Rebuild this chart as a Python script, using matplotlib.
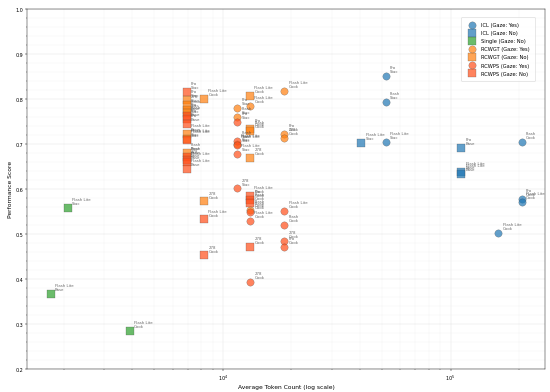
import numpy as np
import matplotlib
matplotlib.use("Agg")
import matplotlib.pyplot as plt
from matplotlib.ticker import AutoMinorLocator

# ICL (Gaze: Yes)
icl_yes_tokens = [51800, 51800, 51800, 205000, 205000, 205000, 162000]
icl_yes_scores = [0.851, 0.793, 0.704, 0.704, 0.578, 0.571, 0.502]
icl_yes_labels = ["Pro\nStac", "Flash\nStac", "Flash Lite\nStac", "Flash\nCook",
                  "Pro\nCook", "Flash Lite\nCook", "Flash Lite\nCook"]

# ICL (Gaze: No)
icl_no_tokens = [40500, 111700, 111700, 111700]
icl_no_scores = [0.702, 0.691, 0.638, 0.633]
icl_no_labels = ["Flash Lite\nStac", "Pro\nBase", "Flash Lite\nBase", "Flash Lite\nBase"]

# Single (Gaze: No)
single_tokens = [1746, 2075, 3890]
single_scores = [0.367, 0.558, 0.284]
single_labels = ["Flash Lite\nBase", "Flash Lite\nStac", "Flash Lite\nCook"]

# RCWGT (Gaze: Yes)
rcwgt_yes_tokens = [11530, 11530, 11530, 13150, 13150, 18580, 18580, 18580]
rcwgt_yes_scores = [0.780, 0.760, 0.700, 0.784, 0.553, 0.818, 0.722, 0.713]
rcwgt_yes_labels = ["Pro\nStac", "Flash\nStac", "Flash Lite\nStac", "Flash Lite\nCook",
                    "Flash\nCook", "Flash Lite\nCook", "Pro\nCook", "278\nCook"]

# RCWGT (Gaze: No)
rcwgt_no_tokens = [6930, 6930, 6930, 6930, 6930, 6930, 6930,
                   8250, 8250, 13150, 13150, 13150, 13150]
rcwgt_no_scores = [0.797, 0.787, 0.776, 0.769, 0.722, 0.712, 0.680,
                   0.800, 0.572, 0.807, 0.733, 0.728, 0.669]
rcwgt_no_labels = ["Pro\nStac", "278\nStac", "Flash\nStac", "Pro\nBase", "Flash Lite\nBase",
                   "Flash Lite\nStac", "Flash\nBase", "Flash Lite\nCook", "278\nCook",
                   "Flash Lite\nCook", "Pro\nCook", "Flash\nCook", "278\nCook"]

# RCWPS (Gaze: Yes)
rcwps_yes_tokens = [11530, 11530, 11530, 11530, 11530, 13150, 13150, 13150,
                    18580, 18580, 18580, 18580]
rcwps_yes_scores = [0.749, 0.707, 0.698, 0.678, 0.601, 0.549, 0.529, 0.393,
                    0.551, 0.520, 0.485, 0.471]
rcwps_yes_labels = ["Pro\nStac", "Flash\nStac", "Flash Lite\nStac", "Flash Lite\nStac",
                    "278\nStac", "Flash\nCook", "Flash Lite\nCook", "278\nCook",
                    "Flash Lite\nCook", "Flash\nCook", "278\nCook", "Pro\nCook"]

# RCWPS (Gaze: No)
rcwps_no_tokens = [6930, 6930, 6930, 6930, 6930, 6930, 6930, 6930, 6930,
                   8250, 8250, 13150, 13150, 13150, 13150]
rcwps_no_scores = [0.815, 0.762, 0.755, 0.745, 0.708, 0.672, 0.665, 0.660, 0.645,
                   0.532, 0.452, 0.584, 0.576, 0.569, 0.471]
rcwps_no_labels = ["Pro\nStac", "Flash\nStac", "Pro\nBase", "Pro\nBase", "Flash Lite\nStac",
                   "Flash\nBase", "278\nBase", "Flash Lite\nBase", "Flash Lite\nBase",
                   "Flash Lite\nCook", "278\nCook", "Flash Lite\nCook", "Pro\nCook",
                   "Flash\nCook", "278\nCook"]

groups = [
    ("ICL (Gaze: Yes)", icl_yes_tokens, icl_yes_scores, icl_yes_labels, "#1f77b4", "o"),
    ("ICL (Gaze: No)", icl_no_tokens, icl_no_scores, icl_no_labels, "#1f77b4", "s"),
    ("Single (Gaze: No)", single_tokens, single_scores, single_labels, "#2ca02c", "s"),
    ("RCWGT (Gaze: Yes)", rcwgt_yes_tokens, rcwgt_yes_scores, rcwgt_yes_labels, "#ff7f0e", "o"),
    ("RCWGT (Gaze: No)", rcwgt_no_tokens, rcwgt_no_scores, rcwgt_no_labels, "#ff7f0e", "s"),
    ("RCWPS (Gaze: Yes)", rcwps_yes_tokens, rcwps_yes_scores, rcwps_yes_labels, "#ff4f1a", "o"),
    ("RCWPS (Gaze: No)", rcwps_no_tokens, rcwps_no_scores, rcwps_no_labels, "#ff4f1a", "s"),
]

fig, ax = plt.subplots(figsize=(14, 10), dpi=550 / 14)
fig.subplots_adjust(left=0.049, right=0.991, top=0.975, bottom=0.059)

for name, xs, ys, labels, color, marker in groups:
    ax.scatter(xs, ys, s=180, c=color, marker=marker, alpha=0.7,
               edgecolors="#444444", linewidths=0.6, label=name, zorder=3)
    for x, y, lab in zip(xs, ys, labels):
        ax.annotate(lab, (x, y), xytext=(8, 5), textcoords="offset points",
                    fontsize=7, color="#444444", alpha=0.8, va="bottom", linespacing=1.0)

ax.set_xscale("log")
ax.set_ylim(0.2, 1.0)
ax.yaxis.set_minor_locator(AutoMinorLocator())
ax.grid(True, which="major", color="#d8d8d8", linewidth=0.8, alpha=0.8)
ax.grid(True, which="minor", color="#eaeaea", linewidth=0.6, alpha=0.8)
ax.set_axisbelow(True)

ax.set_xlabel("Average Token Count (log scale)", fontsize=11)
ax.set_ylabel("Performance Score", fontsize=11)
ax.tick_params(labelsize=9)

ax.legend(loc="upper right", fontsize=9.5, borderpad=1.0, labelspacing=0.6,
          bbox_to_anchor=(0.985, 0.985))

fig.savefig("out.png", dpi=550 / 14)
